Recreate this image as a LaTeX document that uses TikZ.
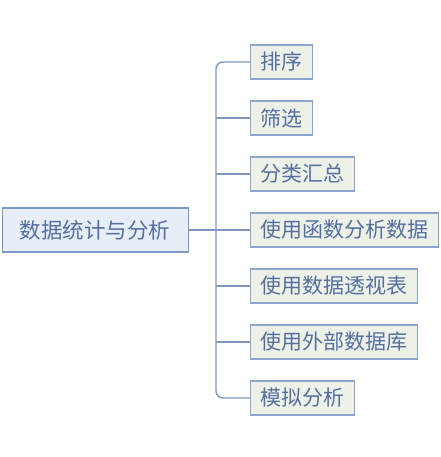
\documentclass[tikz,border=0pt]{standalone}
\usepackage{fontspec}
\newfontfamily\cjk{Noto Sans CJK SC}
\definecolor{linec}{HTML}{7F98C3}
\definecolor{rootfill}{HTML}{E8EEF8}
\definecolor{rootdraw}{HTML}{7A98C8}
\definecolor{kidfill}{HTML}{EEF1E7}
\definecolor{kiddraw}{HTML}{8CA3CB}
\definecolor{txt}{HTML}{5470A0}
\begin{document}
\begin{tikzpicture}[x=1pt,y=-1pt,
  rootbox/.style={draw=rootdraw,fill=rootfill,line width=1.3pt,minimum width=186pt,minimum height=44pt,inner sep=0pt,anchor=west,text=txt,font=\cjk\fontsize{21.5}{24}\selectfont},
  kidbox/.style={draw=kiddraw,fill=kidfill,line width=1.3pt,minimum height=34pt,inner xsep=10pt,inner ysep=0pt,anchor=west,text=txt,font=\cjk\fontsize{21}{24}\selectfont},
  conn/.style={draw=linec,line width=1.4pt}]
\useasboundingbox (0,0) rectangle (440,457);
\node[rootbox] (root) at (1.5,230) {数据统计与分析};
\node[kidbox] (c1) at (250,62) {排序};
\node[kidbox] (c2) at (250,118) {筛选};
\node[kidbox] (c3) at (250,174) {分类汇总};
\node[kidbox] (c4) at (250,230) {使用函数分析数据};
\node[kidbox] (c5) at (250,286) {使用数据透视表};
\node[kidbox] (c6) at (250,342) {使用外部数据库};
\node[kidbox] (c7) at (250,398) {模拟分析};
\coordinate (sp) at (216,230);
\draw[conn,rounded corners=7pt] (c1.west) -| (sp) |- (c7.west);
\draw[conn] (root.east) -- (c4.west);
\foreach \k in {c2,c3,c5,c6}{\draw[conn] (sp |- \k.west) -- (\k.west);}
\end{tikzpicture}
\end{document}
